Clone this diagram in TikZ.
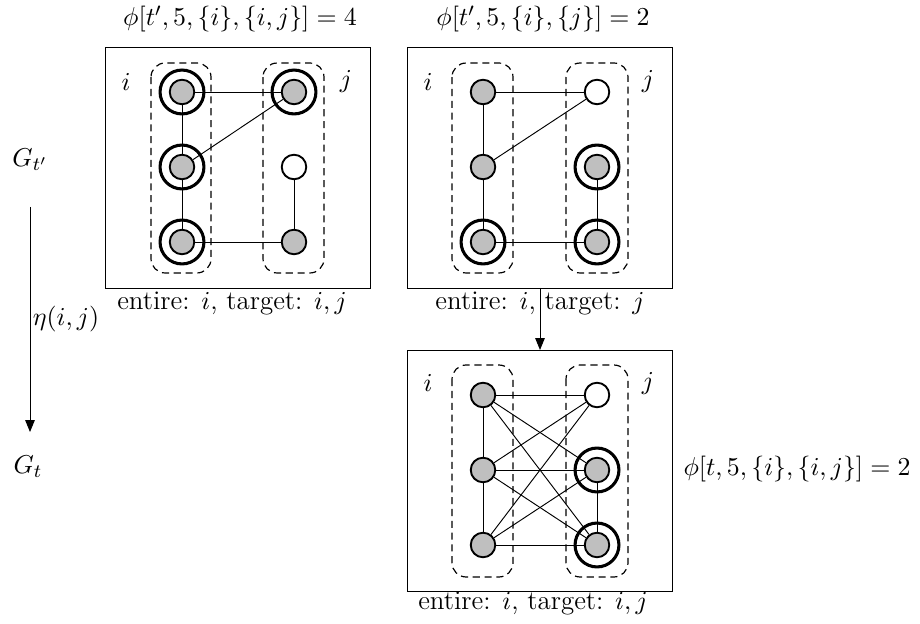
\documentclass[tikz,border=0pt]{standalone}
\usetikzlibrary{arrows.meta}
\begin{document}
\begin{tikzpicture}[x=0.4237pt,y=-0.4237pt,
  every node/.style={font=\fontsize{11.4}{13.7}\selectfont},
  vtx/.style={circle,draw,thick,fill=gray!50,minimum size=10.4pt,inner sep=0pt},
  wvtx/.style={circle,draw,thick,fill=white,minimum size=10.4pt,inner sep=0pt},
  ring/.style={circle,draw,line width=1.3pt,minimum size=18.6pt,inner sep=0pt},
  grp/.style={draw,line width=0.5pt,dash pattern=on 3pt off 2pt,rounded corners=6pt},
  panel/.style={draw},
  arr/.style={-{Triangle[length=5pt,width=4pt]}}]
\useasboundingbox (0,0) rectangle (920,624);

% ---------- panel 1 ----------
\draw[panel] (105,47) rectangle (370,288);
\draw[grp] (151,63) rectangle (211,273);
\draw[grp] (263,63) rectangle (324,273);
\node at (126,82) {$i$};
\node at (346,82) {$j$};
\node[ring] (aL1r) at (182,92) {};
\node[ring] (aL2r) at (182,167) {};
\node[ring] (aL3r) at (182,242) {};
\node[ring] (aR1r) at (294,92) {};
\node[vtx] (aL1) at (182,92) {};
\node[vtx] (aL2) at (182,167) {};
\node[vtx] (aL3) at (182,242) {};
\node[vtx] (aR1) at (294,92) {};
\node[wvtx] (aR2) at (294,167) {};
\node[vtx] (aR3) at (294,242) {};
\draw (aL1) -- (aR1);
\draw (aL1) -- (aL2);
\draw (aL2) -- (aR1);
\draw (aL2) -- (aL3);
\draw (aL3) -- (aR3);
\draw (aR3) -- (aR2);
\node (t1) at (240,19) {$\phi[t',5,\{i\},\{i,j\}]=4$};
\node (c1) at (232,303) {entire: $i$, target: $i,j$};

% ---------- panel 2 ----------
\draw[panel] (407,47) rectangle (672,288);
\coordinate (p2s) at (540,288);
\draw[grp] (452,63) rectangle (513,273);
\draw[grp] (566,63) rectangle (628,273);
\node at (428,82) {$i$};
\node at (648,82) {$j$};
\node[ring] (bL3r) at (483,242) {};
\node[ring] (bR2r) at (597,167) {};
\node[ring] (bR3r) at (597,242) {};
\node[vtx] (bL1) at (483,92) {};
\node[vtx] (bL2) at (483,167) {};
\node[vtx] (bL3) at (483,242) {};
\node[wvtx] (bR1) at (597,92) {};
\node[vtx] (bR2) at (597,167) {};
\node[vtx] (bR3) at (597,242) {};
\draw (bL1) -- (bR1);
\draw (bL1) -- (bL2);
\draw (bL2) -- (bR1);
\draw (bL2) -- (bL3);
\draw (bL3) -- (bR3);
\draw (bR3) -- (bR2);
\node (t2) at (543,19) {$\phi[t',5,\{i\},\{j\}]=2$};
\node (c2) at (540,303) {entire: $i$, target: $j$};

% ---------- panel 3 ----------
\draw[panel] (407,350) rectangle (672,591);
\coordinate (p3n) at (540,350);
\draw[grp] (452,365) rectangle (513,577);
\draw[grp] (566,365) rectangle (628,577);
\node at (428,383) {$i$};
\node at (648,383) {$j$};
\node[ring] (cR2r) at (597,470) {};
\node[ring] (cR3r) at (597,545) {};
\node[vtx] (cL1) at (483,395) {};
\node[vtx] (cL2) at (483,470) {};
\node[vtx] (cL3) at (483,545) {};
\node[wvtx] (cR1) at (597,395) {};
\node[vtx] (cR2) at (597,470) {};
\node[vtx] (cR3) at (597,545) {};
\foreach \a in {cL1,cL2,cL3}{
  \foreach \b in {cR1,cR2,cR3}{
    \draw (\a) -- (\b);
  }
}
\draw (cL1) -- (cL2);
\draw (cL2) -- (cL3);
\draw (cR2) -- (cR3);
\node (t3) at (797,469) {$\phi[t,5,\{i\},\{i,j\}]=2$};
\node (c3) at (533,603) {entire: $i$, target: $i,j$};

\draw[arr] (p2s) -- (p3n);

% ---------- left ----------
\node (gtp) at (30,160) {$G_{t'}$};
\node (gt) at (28,467) {$G_t$};
\coordinate (ls) at (30,207);
\coordinate (le) at (30,432);
\draw[arr] (ls) -- node[right,inner sep=1pt] {$\eta(i,j)$} (le);
\end{tikzpicture}
\end{document}
